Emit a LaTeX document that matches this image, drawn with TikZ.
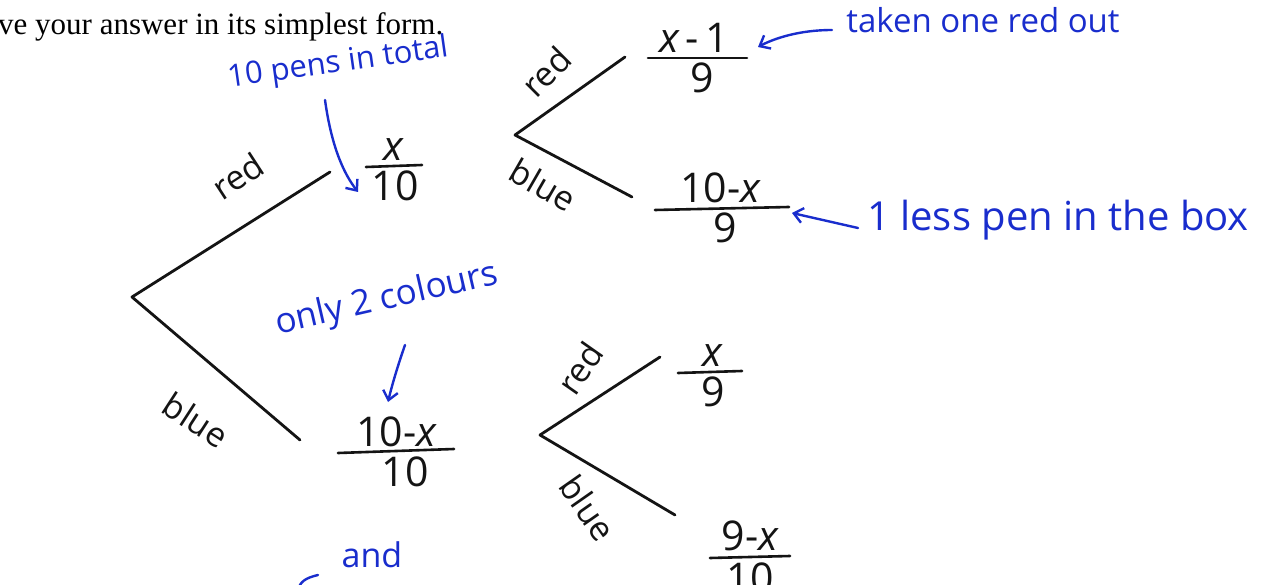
\documentclass[tikz,border=0pt]{standalone}
\usepackage{fontspec}
\setmainfont{Liberation Serif}
\newfontfamily\hand{Open Sans}
\usetikzlibrary{arrows.meta}
\definecolor{penblue}{RGB}{25,45,205}
\definecolor{ink}{RGB}{20,20,20}
\begin{document}
\begin{tikzpicture}[x=1pt,y=-1pt,
  branch/.style={draw=ink,line width=2.8pt,line cap=round,line join=round},
  lbl/.style={font=\hand\fontsize{34}{38}\selectfont,text=ink,inner sep=0pt},
  note/.style={font=\hand\fontsize{31}{35}\selectfont,text=penblue,inner sep=0pt},
  fnum/.style={font=\hand\fontsize{41}{44}\selectfont,text=ink,inner sep=0pt,anchor=south},
  fden/.style={font=\hand\fontsize{41}{44}\selectfont,text=ink,inner sep=0pt,anchor=north},
  fbar/.style={draw=ink,line width=2.6pt,line cap=round},
  notearrow/.style={draw=penblue,line width=2.4pt,line cap=round,-{Straight Barb[length=9pt,width=15pt,line width=2.4pt]}}]
\fill[white] (0,0) rectangle (1264,585);
\clip (0,0) rectangle (1264,585);
% printed question text
\node[font=\fontsize{31}{34}\selectfont,anchor=base west,inner sep=0pt] (q) at (-2,35) {ve your answer in its simplest form.};
% tree vertices
\coordinate (r1) at (132,297);
\coordinate (a1) at (330,172);
\coordinate (b1) at (300,440);
\coordinate (r2) at (515,135);
\coordinate (a2) at (625,57);
\coordinate (b2) at (632,197);
\coordinate (r3) at (540,435);
\coordinate (a3) at (660,357);
\coordinate (b3) at (675,515);
\draw[branch] (a1) -- (r1) -- (b1);
\draw[branch] (a2) -- (r2) -- (b2);
\draw[branch] (a3) -- (r3) -- (b3);
% branch labels
\node[lbl,rotate=33] (l1) at (238,176) {red};
\node[lbl,rotate=-33] (l2) at (196,420) {blue};
\node[lbl,rotate=45] (l3) at (546,72) {red};
\node[lbl,rotate=-30] (l4) at (543,185) {blue};
\node[lbl,rotate=55] (l5) at (580,368) {red};
\node[lbl,rotate=-55] (l6) at (588,508) {blue};
% fractions
\node[fnum] (n1) at (393,161) {\itshape x};
\node[fden] (d1) at (395,171) {10};
\draw[fbar] (366,167) -- (422,165);
\node[fnum] (n2) at (396,447) {10-\itshape x};
\node[fden] (d2) at (405,457) {10};
\draw[fbar] (338,453) -- (454,449);
\node[fnum] (n3) at (694,53) {\itshape x\upshape\,-\,1};
\node[fden] (d3) at (702,63) {9};
\draw[fbar] (648,58) -- (747,58);
\node[fnum] (n4) at (720,203) {10-\itshape x};
\node[fden] (d4) at (725,213) {9};
\draw[fbar] (655,210) -- (789,207);
\node[fnum] (n5) at (712,367) {\itshape x};
\node[fden] (d5) at (713,377) {9};
\draw[fbar] (678,373) -- (742,371);
\node[fnum] (n6) at (750,551) {9-\itshape x};
\node[fden] (d6) at (750,563) {10};
\draw[fbar] (710,558) -- (790,556);
% annotations
\node[note,rotate=8] (t1) at (338,64) {10 pens in total};
\draw[notearrow] (325,100) .. controls (332,150) and (345,175) .. (358,192);
\node[note,font=\hand\fontsize{33}{36}\selectfont] (t2) at (983,20) {taken one red out};
\draw[notearrow] (832,30) .. controls (800,30) and (775,38) .. (758,47);
\node[note,font=\hand\fontsize{40}{44}\selectfont] (t3) at (1058,220) {1 less pen in the box};
\draw[notearrow] (858,228) -- (792,213);
\node[note,rotate=13,font=\hand\fontsize{35}{38}\selectfont] (t4) at (387,300) {only 2 colours};
\draw[notearrow] (405,345) .. controls (398,365) and (392,385) .. (388,402);
\node[note,font=\hand\fontsize{34}{38}\selectfont] (t5) at (372,555) {and};
\draw[penblue,line width=2.4pt,line cap=round] (318,575) .. controls (305,578) and (300,582) .. (298,590);
\end{tikzpicture}
\end{document}
